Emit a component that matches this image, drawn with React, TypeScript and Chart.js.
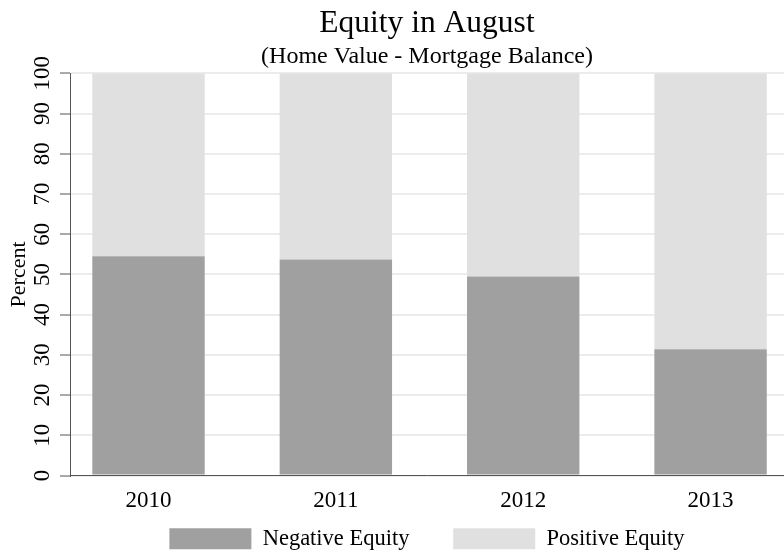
import React, { useEffect, useRef } from "react";
import { Chart, registerables } from "chart.js";

Chart.register(...registerables);

const years = [2010, 2011, 2012, 2013];
const negativeEquity = [54.5, 53.7, 49.5, 31.4];
const positiveEquity = [45.5, 46.3, 50.5, 68.6];
const yTicks = [0, 10, 20, 30, 40, 50, 60, 70, 80, 90, 100];
const seriesNames = ["Negative Equity", "Positive Equity"];
const titleText = "Equity in August";
const subtitleText = "(Home Value - Mortgage Balance)";
const yTitle = "Percent";

const FONT = "'Liberation Serif', 'Times New Roman', serif";

export default function App() {
  const ref = useRef<HTMLCanvasElement | null>(null);

  useEffect(() => {
    document.body.style.margin = "0";
    const canvas = ref.current;
    if (!canvas) return;
    const chart = new Chart(canvas, {
      type: "bar",
      data: {
        labels: years,
        datasets: [
          {
            label: seriesNames[0],
            data: negativeEquity,
            backgroundColor: "#a0a0a0",
            borderWidth: 0,
          },
          {
            label: seriesNames[1],
            data: positiveEquity,
            backgroundColor: "#e0e0e0",
            borderWidth: 0,
          },
        ],
      },
      options: {
        responsive: false,
        animation: false,
        devicePixelRatio: 1,
        color: "#000",
        font: { family: FONT },
        datasets: { bar: { barPercentage: 0.6, categoryPercentage: 1 } },
        layout: { padding: { left: 0, right: 0, top: 0, bottom: -7 } },
        plugins: {
          tooltip: { enabled: false },
          title: {
            display: true,
            text: titleText,
            fullSize: false,
            color: "#000",
            font: { family: FONT, size: 31.5, weight: "normal" },
            padding: { top: 5, bottom: 0 },
          },
          subtitle: {
            display: true,
            text: subtitleText,
            fullSize: false,
            color: "#000",
            font: { family: FONT, size: 24, weight: "normal" },
            padding: { top: 0, bottom: 1.7 },
          },
          legend: {
            position: "bottom",
            fullSize: false,
            labels: {
              boxWidth: 82,
              boxHeight: 21,
              padding: 10,
              color: "#000",
              font: { family: FONT, size: 22.5 },
              generateLabels: (ch: any) => {
                const items = Chart.defaults.plugins.legend.labels.generateLabels(ch);
                return items.map((it: any, i: number) => ({
                  ...it,
                  text: i === 0 ? it.text + "      " : it.text,
                  lineWidth: 0,
                  strokeStyle: "rgba(0,0,0,0)",
                }));
              },
            },
          },
        },
        scales: {
          x: {
            type: "linear",
            stacked: true,
            offset: false,
            min: years[0] - 0.419,
            max: years[years.length - 1] + 0.392,
            grid: { display: false, offset: false },
            border: { display: true, color: "#555", width: 1 },
            afterBuildTicks: (s: any) => {
              s.ticks = years.map((v) => ({ value: v }));
            },
            afterFit: (s: any) => {
              s.height = 42;
            },
            ticks: {
              padding: 4,
              color: "#000",
              font: { family: FONT, size: 23 },
              maxRotation: 0,
              minRotation: 0,
              callback: (v: any) => String(v),
            },
          },
          y: {
            stacked: true,
            min: 0,
            max: 100,
            afterBuildTicks: (s: any) => {
              s.ticks = yTicks.map((v) => ({ value: v }));
            },
            afterFit: (s: any) => {
              s.width = 70;
            },
            grid: {
              color: "#ececec",
              lineWidth: 2,
              tickColor: "#555",
              tickWidth: 1,
              tickLength: 10,
            },
            border: { display: true, color: "#555", width: 1 },
            ticks: {
              padding: 0,
              color: "#000",
              font: { family: FONT, size: 23 },
              minRotation: 90,
              maxRotation: 90,
              crossAlign: "center",
            },
            title: {
              display: true,
              text: yTitle,
              color: "#000",
              font: { family: FONT, size: 22 },
              padding: { top: 6, bottom: 0 },
            },
          },
        },
      },
    });
    return () => chart.destroy();
  }, []);

  return (
    <div style={{ width: 784, height: 553 }}>
      <canvas ref={ref} width={784} height={553} style={{ display: "block" }} />
    </div>
  );
}
